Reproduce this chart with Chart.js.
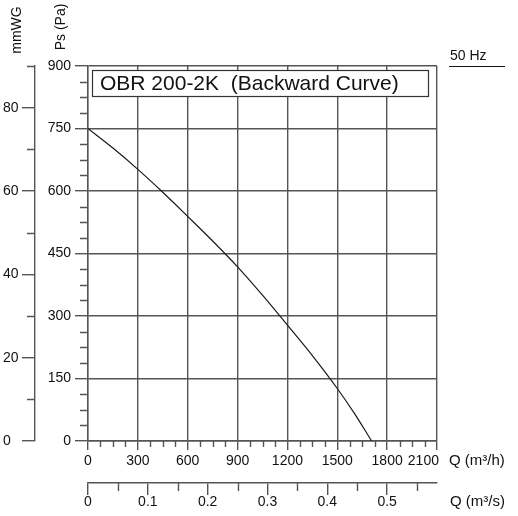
<!DOCTYPE html>
<html>
<head>
<meta charset="utf-8">
<script src="https://cdn.jsdelivr.net/npm/chart.js@4/dist/chart.umd.min.js"></script>
<style>
  html, body { margin: 0; padding: 0; background: #fff; }
  canvas { display: block; }
</style>
</head>
<body>
<canvas id="fanChart" width="518" height="516"></canvas>
<script>
// fan curve: Q in m3/h, static pressure in Pa
var flowM3h = [0, 150, 300, 450, 600, 750, 900, 1050, 1200, 1350, 1500, 1600, 1707];
var pressurePa = [750, 703, 652, 597, 539, 480, 418, 350, 278, 205, 126, 68, 0];

var flowTicks = [0, 300, 600, 900, 1200, 1500, 1800, 2100];
var paTicks = [0, 150, 300, 450, 600, 750, 900];
var mmwgTicks = [0, 20, 40, 60, 80];
var m3sTicks = [0, 0.1, 0.2, 0.3, 0.4, 0.5];

var modelTitle = "OBR 200-2K  (Backward Curve)";
var freqLabel = "50 Hz";

var font = "'Liberation Sans', Arial, Helvetica, sans-serif";
var ink = "#111";
var gridInk = "#555";

function fixTicks(list) {
  return function(scale) {
    scale.ticks = list.map(function(v) { return { value: v }; });
  };
}

function plainLabel(v) {
  return String(v);
}

// last flow label sits left of its tick so it clears the unit text
function flowLabel(v) {
  return v === 2100 ? "2100       " : String(v);
}

var extras = {
  id: "extras",
  afterDraw: function(chart) {
    var ctx = chart.ctx;
    var x = chart.scales.x, y = chart.scales.y, mm = chart.scales.mm, q2 = chart.scales.q2;
    ctx.save();

    // minor ticks
    ctx.strokeStyle = gridInk;
    ctx.lineWidth = 1.4;
    ctx.beginPath();
    for (var v = 75; v < 2100; v += 75) {
      if (v % 300 === 0) continue;
      var px = Math.round(x.getPixelForValue(v)) + 0.5;
      ctx.moveTo(px, x.top);
      ctx.lineTo(px, x.top + 6);
    }
    for (var k = 1; k < 24; k++) {
      if (k % 4 === 0) continue;
      var py = Math.round(y.getPixelForValue(k * 37.5)) + 0.5;
      ctx.moveTo(y.right - 8, py);
      ctx.lineTo(y.right, py);
    }
    for (var m = 10; m <= 90; m += 20) {
      var my = Math.round(mm.getPixelForValue(m)) + 0.5;
      ctx.moveTo(mm.right - 8, my);
      ctx.lineTo(mm.right, my);
    }
    for (var j = 1; j <= 11; j += 2) {
      var qx = Math.round(q2.getPixelForValue(j * 0.05)) + 0.5;
      ctx.moveTo(qx, q2.top);
      ctx.lineTo(qx, q2.top + 8);
    }
    ctx.stroke();

    // title box
    var area = chart.chartArea;
    ctx.fillStyle = "#fff";
    ctx.fillRect(area.left + 5, area.top + 4, 335, 26);
    ctx.strokeStyle = "#333";
    ctx.lineWidth = 1.2;
    ctx.strokeRect(area.left + 4.5, area.top + 4.5, 336, 26);
    ctx.fillStyle = ink;
    ctx.font = "21px " + font;
    ctx.textBaseline = "middle";
    ctx.textAlign = "left";
    ctx.fillText(modelTitle, area.left + 12, area.top + 18);

    // axis titles
    ctx.font = "15px " + font;
    ctx.fillText("Q (m\u00b3/h)", area.right + 12, x.top + 20);
    ctx.fillText("Q (m\u00b3/s)", area.right + 13, q2.top + 19);

    ctx.font = "14px " + font;
    ctx.save();
    ctx.translate(61, 27);
    ctx.rotate(-Math.PI / 2);
    ctx.textAlign = "center";
    ctx.fillText("Ps (Pa)", 0, 0);
    ctx.restore();

    ctx.save();
    ctx.translate(17, 30);
    ctx.rotate(-Math.PI / 2);
    ctx.textAlign = "center";
    ctx.fillText("mmWG", 0, 0);
    ctx.restore();

    // frequency note
    ctx.textBaseline = "alphabetic";
    ctx.fillText(freqLabel, area.right + 13, 60);
    ctx.strokeStyle = ink;
    ctx.lineWidth = 1;
    ctx.beginPath();
    ctx.moveTo(area.right + 12, 66.5);
    ctx.lineTo(505, 66.5);
    ctx.stroke();

    ctx.restore();
  }
};

var tickFont = { family: font, size: 14 };

new Chart(document.getElementById("fanChart"), {
  type: "scatter",
  data: {
    datasets: [{
      data: flowM3h.map(function(q, i) { return { x: q, y: pressurePa[i] }; }),
      showLine: true,
      borderColor: "#1a1a1a",
      borderWidth: 1.2,
      pointRadius: 0,
      tension: 0.4,
      cubicInterpolationMode: "monotone"
    }]
  },
  plugins: [extras],
  options: {
    responsive: false,
    animation: false,
    devicePixelRatio: 1,
    layout: { padding: { left: 3, top: 66, right: 81, bottom: 0 } },
    plugins: { legend: { display: false }, tooltip: { enabled: false } },
    scales: {
      x: {
        type: "linear", position: "bottom", min: 0, max: 2100, weight: 0,
        afterBuildTicks: fixTicks(flowTicks),
        afterFit: function(s) { s.height = 42; },
        grid: { color: gridInk, lineWidth: 1.4, tickLength: 9 },
        border: { color: gridInk, width: 1.4 },
        ticks: { font: tickFont, color: ink, padding: 3, maxRotation: 0, autoSkip: false, callback: flowLabel }
      },
      q2: {
        type: "linear", position: "bottom", min: 0, max: 2100 / 3600, weight: 1,
        afterBuildTicks: fixTicks(m3sTicks),
        afterFit: function(s) { s.height = 33; },
        grid: { drawOnChartArea: false, color: gridInk, lineWidth: 1.4, tickLength: 12 },
        border: { color: gridInk, width: 1.4 },
        ticks: { font: tickFont, color: ink, padding: -1, maxRotation: 0, autoSkip: false, callback: plainLabel }
      },
      y: {
        type: "linear", position: "left", min: 0, max: 900, weight: 0,
        afterBuildTicks: fixTicks(paTicks),
        afterFit: function(s) { s.width = 53; },
        grid: { color: gridInk, lineWidth: 1.4, tickLength: 13 },
        border: { color: gridInk, width: 1.4 },
        ticks: { font: tickFont, color: ink, padding: 4, callback: plainLabel }
      },
      mm: {
        type: "linear", position: "left", min: 0, max: 90, weight: 1,
        afterBuildTicks: fixTicks(mmwgTicks),
        afterFit: function(s) { s.width = 32; },
        grid: { drawOnChartArea: false, color: gridInk, lineWidth: 1.4, tickLength: 13 },
        border: { color: gridInk, width: 1.4 },
        ticks: { font: tickFont, color: ink, crossAlign: "far", padding: 4, callback: plainLabel }
      }
    }
  }
});
</script>
</body>
</html>
